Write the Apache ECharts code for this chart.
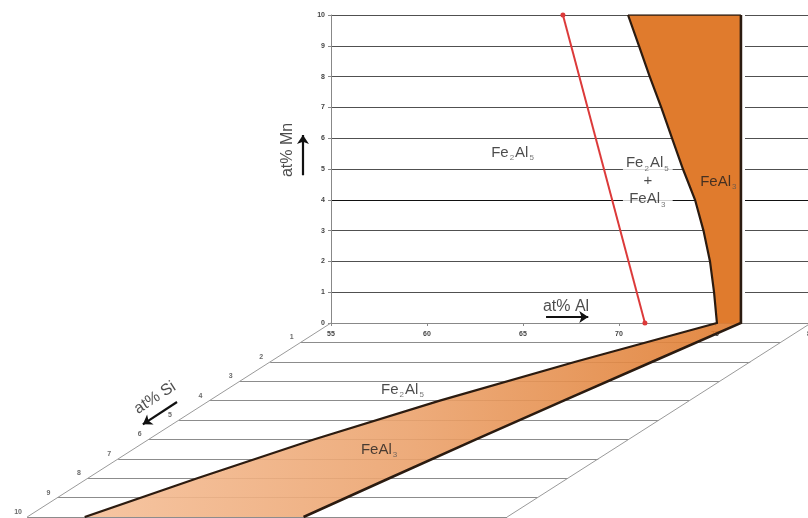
<!DOCTYPE html>
<html>
<head>
<meta charset="utf-8">
<script src="https://cdn.jsdelivr.net/npm/echarts@6/dist/echarts.min.js"></script>
<style>
  html, body { margin: 0; padding: 0; background: #fff; }
  #chart { width: 808px; height: 518px; }
</style>
</head>
<body>
<div id="chart"></div>
<script>
// 轴刻度
const alTicks = [55, 60, 65, 70, 75, 80];
const mnTicks = [0, 1, 2, 3, 4, 5, 6, 7, 8, 9, 10];
const siTicks = [1, 2, 3, 4, 5, 6, 7, 8, 9, 10];

// Mn 平面 (Si = 0): Fe2Al5 / FeAl3 相界 与 FeAl3 右边界
const mnLevels = [0, 1, 2, 3, 4, 5, 6, 7, 8, 9, 10];
const alEdgeFe2Al5Mn = [75.1, 74.95, 74.74, 74.4, 73.96, 73.33, 72.76, 72.2, 71.6, 71.04, 70.47];
const alEdgeFeAl3Mn = [76.35, 76.35, 76.35, 76.35, 76.35, 76.35, 76.35, 76.35, 76.35, 76.35, 76.35];

// Si 平面 (Mn = 0)
const siLevels = [0, 2, 4, 6, 8, 10];
const alEdgeFe2Al5Si = [75.1, 70.9, 67.0, 63.6, 60.7, 58.0];
const alEdgeFeAl3Si = [76.35, 74.9, 73.45, 72.05, 70.7, 69.4];

// 红线
const redMn = [10, 0];
const redAl = [67.08, 71.35];

// 斜投影: Si 轴方向
const SI_DX = -1.583;
const SI_DY = -0.63;
function P(al, si, mn) {
  return [al + SI_DX * si, mn + SI_DY * si];
}

const INK = "#2b1b10";
const FONT = "Liberation Sans";

const richText = {
  n: { fontSize: 15, color: "#1e1e1e", fontFamily: FONT, lineHeight: 18 },
  s: { fontSize: 8, color: "#555", fontFamily: FONT, lineHeight: 18, verticalAlign: "bottom", padding: [7, 1, 0, 1] }
};

// 相界折线 (Si 平面 → Mn 平面)
const edgeFe2Al5 = siLevels.map((s, i) => P(alEdgeFe2Al5Si[i], s, 0)).reverse()
  .concat(mnLevels.map((m, i) => P(alEdgeFe2Al5Mn[i], 0, m)));
const edgeFeAl3 = siLevels.map((s, i) => P(alEdgeFeAl3Si[i], s, 0)).reverse()
  .concat(mnLevels.map((m, i) => P(alEdgeFeAl3Mn[i], 0, m)));

const upperBand = mnLevels.map((m, i) => P(alEdgeFe2Al5Mn[i], 0, m))
  .concat(mnLevels.map((m, i) => P(alEdgeFeAl3Mn[i], 0, m)).reverse());
const lowerBand = siLevels.map((s, i) => P(alEdgeFe2Al5Si[i], s, 0))
  .concat(siLevels.map((s, i) => P(alEdgeFeAl3Si[i], s, 0)).reverse());

function polygonSeries(points, fill, z, opacity) {
  return {
    type: "custom",
    xAxisIndex: 1,
    yAxisIndex: 1,
    z: z,
    silent: true,
    data: [[0, 0]],
    renderItem: function (params, api) {
      return {
        type: "polygon",
        shape: { points: points.map(p => api.coord(p)) },
        style: { fill: fill, opacity: opacity }
      };
    }
  };
}

function linesSeries(segs, color, width, z, extra) {
  return Object.assign({
    type: "lines",
    coordinateSystem: "cartesian2d",
    xAxisIndex: 1,
    yAxisIndex: 1,
    z: z,
    silent: true,
    symbol: "none",
    lineStyle: { color: color, width: width, opacity: 1 },
    data: segs.map(c => ({ coords: c }))
  }, extra || {});
}

function textPoint(pos, text, label) {
  return { value: pos, label: Object.assign({ show: true, formatter: text }, label || {}) };
}

const chart = echarts.init(document.getElementById("chart"));

const option = {
  backgroundColor: "#fff",
  animation: false,
  grid: [
    { left: 331, top: 15, width: 480, height: 308, outerBoundsMode: "none" },
    { left: 4.6, top: 15, width: 806.4, height: 508.2, outerBoundsMode: "none" }
  ],
  xAxis: [
    {
      gridIndex: 0, type: "value", min: 55, max: 80, interval: 5,
      axisLine: { show: true, lineStyle: { color: "#888", width: 1 } },
      axisTick: { show: true, length: 3, lineStyle: { color: "#888" } },
      axisLabel: { fontSize: 7, fontWeight: "bold", color: "#444", margin: 8, fontFamily: FONT,
        customValues: alTicks },
      splitLine: { show: false }
    },
    { gridIndex: 1, type: "value", min: 38, max: 80, show: false }
  ],
  yAxis: [
    {
      gridIndex: 0, type: "value", min: 0, max: 10, interval: 1,
      axisLine: { show: true, lineStyle: { color: "#888", width: 1 } },
      axisTick: { show: true, length: 3, lineStyle: { color: "#888" } },
      axisLabel: { fontSize: 7, fontWeight: "bold", color: "#444", margin: 6, fontFamily: FONT },
      splitLine: {
        show: true,
        lineStyle: { color: mnTicks.map(m => (m === 4 ? "#111" : "#505050")), width: 1.2 }
      }
    },
    { gridIndex: 1, type: "value", min: -6.5, max: 10, show: false }
  ],
  series: [
    // Si 平面网格
    linesSeries(siTicks.map(s => [P(55, s, 0), P(80, s, 0)]), "#8c8c8c", 1, 1),
    linesSeries([[P(55, 0, 0), P(55, 10, 0)], [P(80, 0, 0), P(80, 10, 0)]], "#9a9a9a", 1, 1),
    // FeAl3 右边界外侧的白色间隙
    linesSeries([[P(76.47, 0, 0.03), P(76.47, 0, 10)]], "#fff", 4, 2),
    // FeAl3 区域
    polygonSeries(upperBand, "#e07b2d", 3, 1),
    polygonSeries(lowerBand, new echarts.graphic.LinearGradient(0, 0, 1, 0, [
      { offset: 0, color: "#f5bf98" },
      { offset: 0.5, color: "#eba26c" },
      { offset: 1, color: "#df7b2e" }
    ]), 3, 0.9),
    // 相界
    linesSeries([edgeFe2Al5], INK, 2.2, 5, { polyline: true }),
    linesSeries([edgeFeAl3], INK, 2.6, 5, { polyline: true }),
    linesSeries([[P(alEdgeFe2Al5Mn[10], 0, 10), P(alEdgeFeAl3Mn[10], 0, 10)]], INK, 1.6, 5),
    // 红线
    {
      type: "line", xAxisIndex: 1, yAxisIndex: 1, z: 6, silent: true,
      data: redMn.map((m, i) => P(redAl[i], 0, m)),
      symbol: "circle", symbolSize: 5, showSymbol: true,
      lineStyle: { color: "#dc3a3a", width: 2 },
      itemStyle: { color: "#dc3a3a" }
    },
    // 坐标箭头
    linesSeries([
      [[53.54, 4.8], [53.54, 6.1]],
      [[66.2, 0.195], [68.4, 0.195]],
      [[46.98, -2.565], [45.2, -3.29]]
    ], "#111", 2.2, 7, { symbol: ["none", "arrow"], symbolSize: 9 }),
    // Si 刻度 + 文字
    {
      type: "scatter", xAxisIndex: 1, yAxisIndex: 1, z: 8, silent: true,
      symbolSize: 1, itemStyle: { color: "rgba(0,0,0,0)" },
      label: { show: true, position: "inside", fontFamily: FONT },
      data: siTicks.map(s => textPoint(P(55, s, 0), String(s),
        { fontSize: 7, fontWeight: "bold", color: "#444", offset: [-9, -5] })).concat([
        textPoint([52.76, 5.62], "at% Mn", { fontSize: 16, color: "#1e1e1e", rotate: 90 }),
        textPoint([67.24, 0.52], "at% Al", { fontSize: 16, color: "#1e1e1e" }),
        textPoint([45.83, -2.43], "at% Si", { fontSize: 16, color: "#1e1e1e", rotate: 33 }),
        textPoint(P(64.48, 0, 5.52), "{n|Fe}{s|2}{n|Al}{s|5}", { rich: richText }),
        textPoint(P(71.5, 0, 4.6), "{n|Fe}{s|2}{n|Al}{s|5}\n{n|+}\n{n|Fe}{n|Al}{s|3}",
          { rich: richText, backgroundColor: "#fff", padding: [0, 3, 0, 3], align: "center" }),
        textPoint(P(75.2, 0, 4.58), "{n|Fe}{n|Al}{s|3}", { rich: richText }),
        textPoint(P(64.21, 3.45, 0), "{n|Fe}{s|2}{n|Al}{s|5}", { rich: richText }),
        textPoint(P(67.9, 6.55, 0), "{n|Fe}{n|Al}{s|3}", { rich: richText })
      ])
    }
  ]
};

chart.setOption(option);
</script>
</body>
</html>
